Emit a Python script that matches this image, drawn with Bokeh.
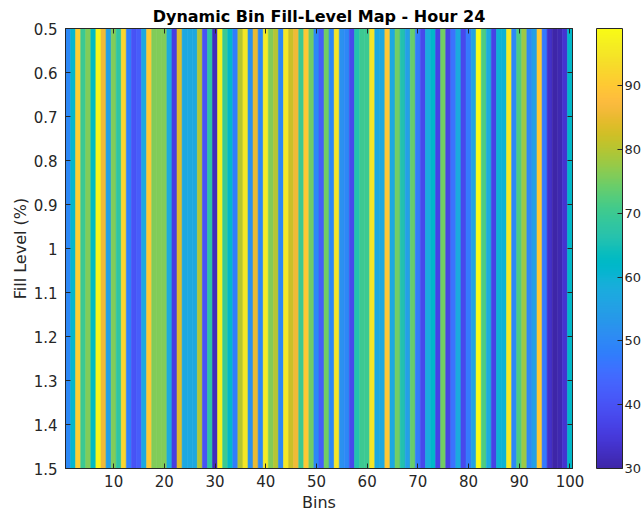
import numpy as np
from bokeh.plotting import figure
from bokeh.models import (LinearColorMapper, ColorBar, FixedTicker, LinearAxis,
                          Range1d, ColumnDataSource)
from bokeh.transform import transform
from bokeh.embed import file_html
from bokeh.resources import INLINE

title_text = "Dynamic Bin Fill-Level Map - Hour 24"
x_label = "Bins"
y_label = "Fill Level (%)"

bins = list(range(1, 101))
fill = [50, 61, 91, 70, 76, 63, 98, 86, 55, 76,
        68, 92, 48, 40, 42, 57, 90, 76, 76, 76,
        58, 36, 84, 57, 57, 57, 80, 40, 68, 32,
        97, 70, 62, 48, 80, 95, 52, 85, 50, 96,
        76, 80, 50, 95, 82, 86, 70, 90, 75, 50,
        42, 75, 50, 95, 52, 50, 38, 66, 70, 70,
        95, 57, 57, 90, 57, 75, 66, 55, 74, 48,
        38, 58, 62, 37, 75, 37, 46, 58, 38, 47,
        56, 99, 72, 58, 37, 60, 60, 96, 50, 72,
        78, 50, 55, 90, 47, 33, 30, 31, 34, 62]

x_ticks = [10, 20, 30, 40, 50, 60, 70, 80, 90, 100]
y_ticks = [0.5, 0.6, 0.7, 0.8, 0.9, 1.0, 1.1, 1.2, 1.3, 1.4, 1.5]
y_tick_labels = ["0.5", "0.6", "0.7", "0.8", "0.9", "1", "1.1", "1.2", "1.3", "1.4", "1.5"]
cbar_ticks = [30, 40, 50, 60, 70, 80, 90]
clim = (30, 99)

PARULA64 = [
    [0.2422, 0.1504, 0.6603], [0.2504, 0.1650, 0.7076], [0.2578, 0.1818, 0.7511], [0.2647, 0.1978, 0.7952],
    [0.2706, 0.2147, 0.8364], [0.2751, 0.2342, 0.8710], [0.2783, 0.2559, 0.8991], [0.2803, 0.2782, 0.9221],
    [0.2813, 0.3006, 0.9414], [0.2810, 0.3228, 0.9579], [0.2795, 0.3447, 0.9717], [0.2760, 0.3667, 0.9829],
    [0.2699, 0.3892, 0.9906], [0.2602, 0.4123, 0.9952], [0.2440, 0.4358, 0.9988], [0.2206, 0.4603, 0.9973],
    [0.1963, 0.4847, 0.9892], [0.1834, 0.5074, 0.9798], [0.1786, 0.5289, 0.9682], [0.1764, 0.5499, 0.9520],
    [0.1687, 0.5703, 0.9359], [0.1540, 0.5902, 0.9218], [0.1460, 0.6091, 0.9079], [0.1380, 0.6276, 0.8973],
    [0.1248, 0.6459, 0.8883], [0.1113, 0.6635, 0.8763], [0.0952, 0.6798, 0.8598], [0.0689, 0.6948, 0.8394],
    [0.0297, 0.7082, 0.8163], [0.0036, 0.7203, 0.7917], [0.0067, 0.7312, 0.7660], [0.0433, 0.7411, 0.7394],
    [0.0964, 0.7500, 0.7120], [0.1408, 0.7584, 0.6842], [0.1717, 0.7670, 0.6554], [0.1938, 0.7758, 0.6251],
    [0.2161, 0.7843, 0.5923], [0.2470, 0.7918, 0.5567], [0.2906, 0.7973, 0.5188], [0.3406, 0.8008, 0.4789],
    [0.3909, 0.8029, 0.4354], [0.4456, 0.8024, 0.3909], [0.5044, 0.7993, 0.3480], [0.5616, 0.7942, 0.3045],
    [0.6174, 0.7876, 0.2612], [0.6720, 0.7793, 0.2227], [0.7242, 0.7698, 0.1910], [0.7738, 0.7598, 0.1646],
    [0.8203, 0.7498, 0.1535], [0.8634, 0.7406, 0.1596], [0.9035, 0.7330, 0.1774], [0.9393, 0.7288, 0.2100],
    [0.9728, 0.7298, 0.2394], [0.9956, 0.7434, 0.2371], [0.9970, 0.7659, 0.2199], [0.9952, 0.7893, 0.2028],
    [0.9892, 0.8136, 0.1885], [0.9786, 0.8386, 0.1766], [0.9676, 0.8639, 0.1643], [0.9610, 0.8890, 0.1537],
    [0.9597, 0.9135, 0.1423], [0.9628, 0.9373, 0.1265], [0.9691, 0.9606, 0.1064], [0.9769, 0.9839, 0.0805],
]
arr = np.array(PARULA64)
t64 = np.linspace(0, 1, 64)
t256 = np.linspace(0, 1, 256)
palette = ["#%02x%02x%02x" % tuple(int(round(255 * np.interp(v, t64, arr[:, k]))) for k in range(3))
           for v in t256]

mapper = LinearColorMapper(palette=palette, low=clim[0], high=clim[1])

src = ColumnDataSource(dict(
    left=[b - 0.5 for b in bins],
    right=[b + 0.5 for b in bins],
    fill=fill,
))

FONT = "DejaVu Sans"
INK = "#262626"

p = figure(frame_width=507, frame_height=440,
           x_range=Range1d(0.5, 100.5), y_range=Range1d(1.5, 0.5),
           output_backend="svg", toolbar_location=None,
           min_border_left=65, min_border_right=0, min_border_top=28, min_border_bottom=48,
           background_fill_color="white", border_fill_color="white")

p.quad(left="left", right="right", top=0.5, bottom=1.5, source=src,
       fill_color=transform("fill", mapper), line_color=transform("fill", mapper), line_width=0.6)

p.title.text = title_text
p.title.align = "center"
p.title.text_font = FONT
p.title.text_font_size = "16px"
p.title.text_font_style = "bold"
p.title.text_color = "black"
p.title.standoff = 5

p.grid.visible = False
p.outline_line_color = INK
p.outline_line_width = 1

def style_axis(ax, show_labels=True):
    ax.axis_line_color = INK
    ax.major_tick_line_color = INK
    ax.major_tick_in = 5
    ax.major_tick_out = 0
    ax.minor_tick_line_color = None
    ax.major_label_text_font = FONT
    ax.major_label_text_font_size = "15px"
    ax.major_label_text_color = INK
    ax.axis_label_text_font = FONT
    ax.axis_label_text_font_size = "16px"
    ax.axis_label_text_font_style = "normal"
    ax.axis_label_text_color = INK
    if not show_labels:
        ax.major_label_text_font_size = "1px"
        ax.major_label_text_color = None

p.xaxis.ticker = FixedTicker(ticks=x_ticks)
p.xaxis.axis_label = x_label
p.xaxis.axis_label_standoff = 3
p.xaxis.major_label_standoff = 6
style_axis(p.xaxis[0])

p.yaxis.ticker = FixedTicker(ticks=y_ticks)
p.yaxis.major_label_overrides = {v: s for v, s in zip(y_ticks, y_tick_labels)}
p.yaxis.axis_label = y_label
p.yaxis.axis_label_standoff = 1
p.yaxis.major_label_standoff = 8
style_axis(p.yaxis[0])

top_ax = LinearAxis(ticker=FixedTicker(ticks=x_ticks))
style_axis(top_ax, show_labels=False)
top_ax.major_label_standoff = 0
p.add_layout(top_ax, "above")

right_ax = LinearAxis(ticker=FixedTicker(ticks=y_ticks))
style_axis(right_ax, show_labels=False)
right_ax.major_label_standoff = 0
p.add_layout(right_ax, "right")

# invisible spacer axis: reserves the gap between the plot box and the colour bar
spacer_ax = LinearAxis(ticker=FixedTicker(ticks=y_ticks))
style_axis(spacer_ax, show_labels=False)
spacer_ax.axis_line_color = None
spacer_ax.major_tick_line_color = None
spacer_ax.major_tick_in = 0
spacer_ax.major_tick_out = 24
spacer_ax.major_label_standoff = 0
p.add_layout(spacer_ax, "right")

cbar = ColorBar(color_mapper=mapper, ticker=FixedTicker(ticks=cbar_ticks),
                width=26, padding=0, margin=0, location=(0, 0),
                bar_line_color=INK, major_tick_line_color=INK,
                major_tick_in=5, major_tick_out=0, minor_tick_line_color=None,
                label_standoff=2, major_label_text_font=FONT,
                major_label_text_font_size="13px", major_label_text_color=INK,
                background_fill_color=None)
p.add_layout(cbar, "right")

open("out.html", "w").write(file_html(p, INLINE))
